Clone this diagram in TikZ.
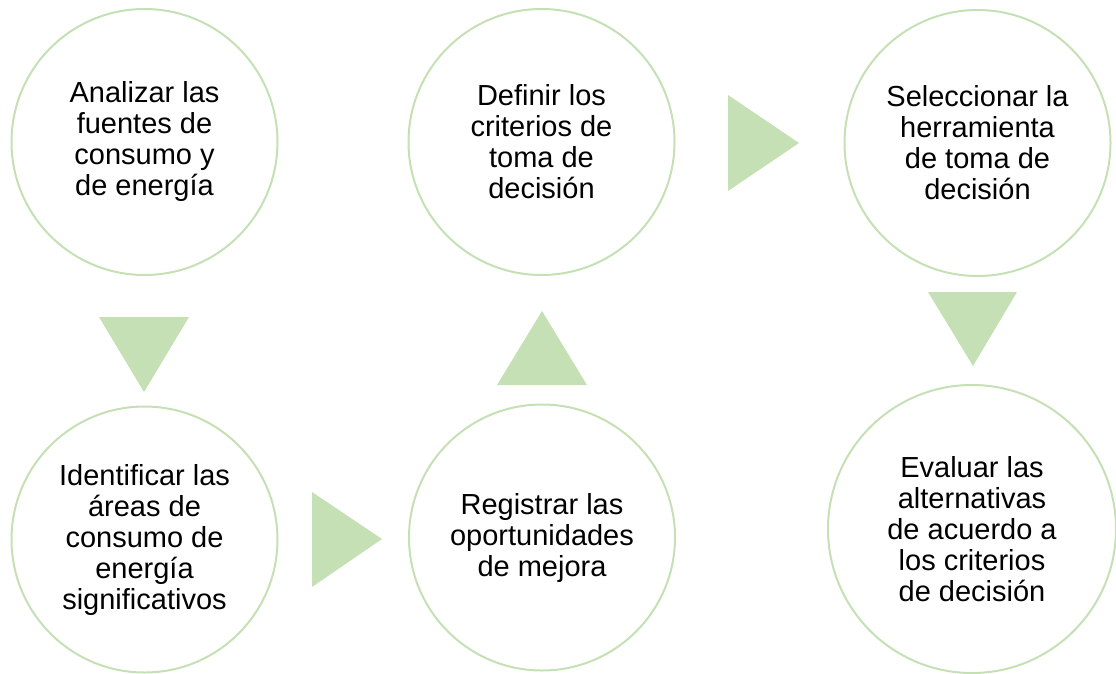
\documentclass[tikz,border=0pt]{standalone}
\usepackage{fontspec}
\setmainfont{Liberation Sans}
\usepackage{tikz}
\usetikzlibrary{shapes,arrows}
\definecolor{paleGreen}{HTML}{C5E0B4}

\begin{document}
\begin{tikzpicture}[x=1pt,y=-1pt]
						\tikzset{align=center,font=\fontsize{29}{31}\selectfont}
						
						\tikzset{stage/.style = {shape=circle,draw=paleGreen,line width=2pt,inner sep=0pt,minimum size=266pt}}
						
						\tikzset{pointer/.style = {fill=paleGreen}}
						
						\useasboundingbox (0,0) rectangle (1116,674);
						
						% stages
						
						\node[stage] (fuentes) at  (144.5,142) {Analizar las\\fuentes de\\consumo y\\de energ\'ia};
						
						\node[stage] (areas) at  (144.5,539.5) {Identificar las\\\'areas de\\consumo de\\energ\'ia\\significativos};
						
						\node[stage] (registrar) at  (542,537.5) {Registrar las\\oportunidades\\de mejora};
						
						\node[stage] (criterios) at  (541.5,142) {Definir los\\criterios de\\toma de\\decisi\'on};
						
						\node[stage] (herramienta) at  (977.5,143) {Seleccionar la\\herramienta\\de toma de\\decisi\'on};
						
						\node[stage,minimum size=288pt] (evaluar) at  (972,529) {Evaluar las\\alternativas\\de acuerdo a\\los criterios\\de decisi\'on};
						%arrows
						
						\begin{scope}[pointer]
						\fill (99,317) -- (189,317) -- (144,392) -- cycle;
						\fill (312,492) -- (312,587) -- (382,539) -- cycle;
						\fill (497,385) -- (587,385) -- (542,311) -- cycle;
						\fill (728,95) -- (728,191) -- (799,143) -- cycle;
						\fill (928,292) -- (1017,292) -- (973,366) -- cycle;
						\end{scope}
				\end{tikzpicture}
\end{document}
